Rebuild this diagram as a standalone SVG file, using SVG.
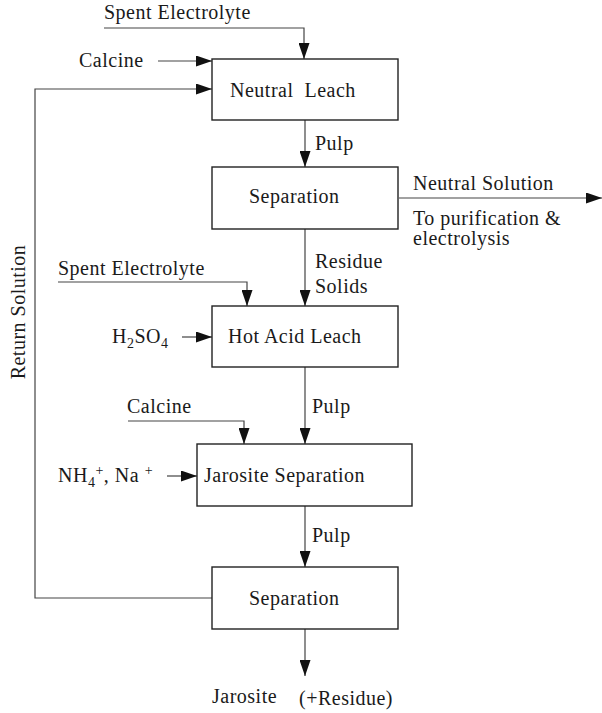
<svg xmlns="http://www.w3.org/2000/svg" width="602" height="713" viewBox="0 0 602 713">
<defs>
<style>
text{font-family:"Liberation Serif","Times New Roman",serif;font-size:20px;letter-spacing:0.5px;fill:#1a1a1a;white-space:pre}
.sub{font-size:14px}
.box{fill:#fff;stroke:#222;stroke-width:1.4}
.ln{fill:none;stroke:#444;stroke-width:1.2}
.ar{marker-end:url(#ah)}
</style>
<marker id="ah" markerUnits="userSpaceOnUse" markerWidth="16" markerHeight="11" refX="16" refY="5.5" orient="auto">
<path d="M0,0 L16,5.5 L0,11 z" fill="#111"/>
</marker>
</defs>
<rect width="602" height="713" fill="#fff"/>
<g id="connectors">
<polyline class="ln ar" points="104,28 304,28 304,59"/>
<polyline class="ln ar" points="158,61 212,61"/>
<polyline class="ln ar" points="212,598 35,598 35,89 212,89"/>
<polyline class="ln ar" points="305,120 305,167"/>
<polyline class="ln ar" points="399,198 602,198"/>
<polyline class="ln ar" points="305,229 305,306"/>
<polyline class="ln ar" points="58,282 247,282 247,306"/>
<polyline class="ln ar" points="182,337 212,337"/>
<polyline class="ln ar" points="305,367 305,444"/>
<polyline class="ln ar" points="128,421 244,421 244,444"/>
<polyline class="ln ar" points="167,476 197,476"/>
<polyline class="ln ar" points="305,506 305,567"/>
<polyline class="ln ar" points="305,629 305,676"/>
</g>
<g id="labels">
<text x="104" y="19">Spent Electrolyte</text>
<text x="79" y="67">Calcine</text>
<text x="315" y="150">Pulp</text>
<text x="413" y="190">Neutral Solution</text>
<text x="413" y="225">To purification &amp;</text>
<text x="413" y="245">electrolysis</text>
<text x="315" y="268">Residue</text>
<text x="315" y="293">Solids</text>
<text x="58" y="275">Spent Electrolyte</text>
<text x="112" y="343">H<tspan class="sub" dy="5">2</tspan><tspan dy="-5">SO</tspan><tspan class="sub" dy="5">4</tspan></text>
<text transform="translate(25,312) rotate(-90)" text-anchor="middle">Return Solution</text>
<text x="127" y="413">Calcine</text>
<text x="312" y="413">Pulp</text>
<text x="58" y="482">NH<tspan class="sub" dy="5">4</tspan><tspan class="sub" dy="-12">+</tspan><tspan dy="7">, Na </tspan><tspan class="sub" dy="-7">+</tspan></text>
<text x="312" y="542">Pulp</text>
<text x="212" y="703">Jarosite</text>
<text x="299" y="705">(+Residue)</text>
</g>
<g id="neutral-leach">
<rect class="box" x="212" y="59" width="186" height="61"/>
<text x="230" y="97">Neutral  Leach</text>
</g>
<g id="separation-1">
<rect class="box" x="212" y="167" width="186" height="62"/>
<text x="249" y="203">Separation</text>
</g>
<g id="hot-acid-leach">
<rect class="box" x="212" y="306" width="186" height="61"/>
<text x="228" y="343">Hot Acid Leach</text>
</g>
<g id="jarosite-separation">
<rect class="box" x="197" y="444" width="215" height="62"/>
<text x="204" y="482">Jarosite Separation</text>
</g>
<g id="separation-2">
<rect class="box" x="212" y="567" width="186" height="62"/>
<text x="249" y="605">Separation</text>
</g>
</svg>
